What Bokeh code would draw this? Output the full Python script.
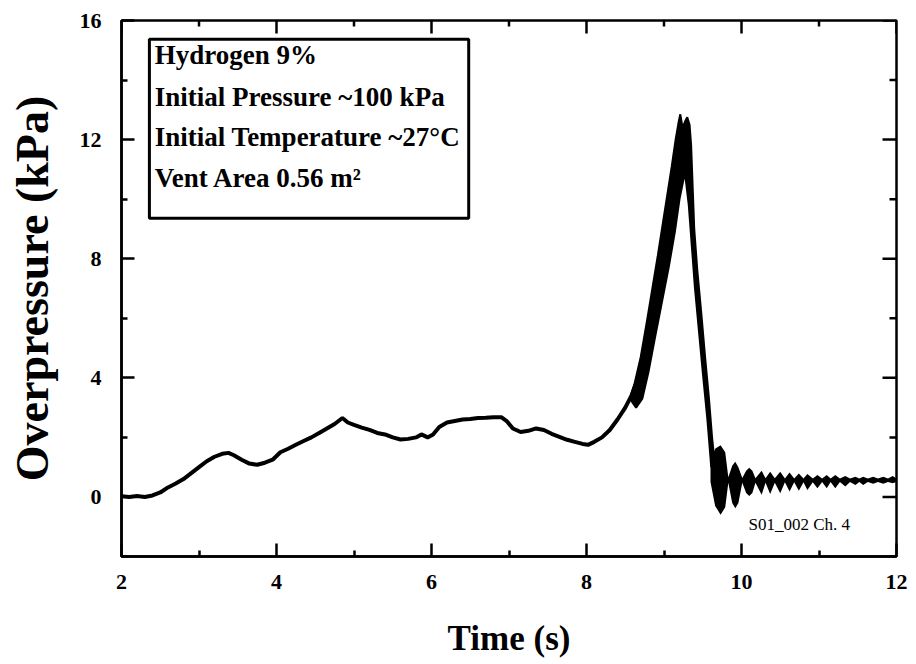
import math
from bokeh.plotting import figure
from bokeh.models import Range1d, FixedTicker, BoxAnnotation, Label
from bokeh.embed import file_html
from bokeh.resources import INLINE

# ---- data ----
# smooth part of the trace (time s, overpressure kPa)
trace_t = [2.00, 2.10, 2.20, 2.30, 2.40, 2.50, 2.60, 2.70, 2.80, 2.90, 3.00, 3.10, 3.20, 3.30,
           3.38, 3.45, 3.55, 3.65, 3.75, 3.85, 3.95, 4.05, 4.15, 4.25, 4.35, 4.45, 4.55, 4.65,
           4.75, 4.85, 4.92, 5.00, 5.10, 5.20, 5.30, 5.40, 5.50, 5.60, 5.70, 5.80, 5.87, 5.95,
           6.02, 6.10, 6.20, 6.30, 6.40, 6.50, 6.60, 6.70, 6.80, 6.90, 6.97, 7.05, 7.15, 7.25,
           7.35, 7.45, 7.55, 7.65, 7.75, 7.85, 7.95, 8.02, 8.10, 8.20, 8.30, 8.40, 8.50, 8.58,
           8.65, 8.72]
trace_p = [0.02, 0.00, 0.03, 0.00, 0.05, 0.15, 0.32, 0.45, 0.60, 0.80, 1.00, 1.20, 1.35, 1.45,
           1.48, 1.40, 1.25, 1.12, 1.08, 1.15, 1.25, 1.50, 1.62, 1.75, 1.88, 2.00, 2.15, 2.30,
           2.45, 2.65, 2.50, 2.42, 2.33, 2.25, 2.15, 2.10, 2.00, 1.93, 1.95, 2.00, 2.10, 2.00,
           2.10, 2.35, 2.50, 2.55, 2.60, 2.62, 2.65, 2.66, 2.68, 2.68, 2.55, 2.30, 2.18, 2.22,
           2.30, 2.25, 2.12, 2.02, 1.92, 1.85, 1.78, 1.75, 1.85, 2.00, 2.25, 2.60, 3.00, 3.40,
           3.90, 4.50]

# outline of the thick (fast-oscillating) pressure peak
peak_t = [8.56, 8.62, 8.70, 8.78, 8.85, 8.92, 8.98, 9.04, 9.10, 9.15, 9.19, 9.21, 9.24, 9.27,
          9.30, 9.33, 9.35, 9.37, 9.39, 9.43, 9.48, 9.53, 9.58, 9.62, 9.66, 9.61, 9.56, 9.50,
          9.45, 9.40, 9.36, 9.32, 9.27, 9.20, 9.14, 9.06, 8.97, 8.88, 8.80, 8.72, 8.64]
peak_p = [3.3, 3.8, 4.7, 5.9, 7.0, 8.1, 9.1, 10.1, 11.1, 12.0, 12.6, 12.85, 12.4, 12.6,
          12.75, 12.5, 11.8, 10.4, 9.0, 7.6, 6.2, 4.7, 3.3, 2.0, 1.0, 1.0, 2.6, 4.2,
          5.6, 7.0, 8.4, 9.8, 10.9, 10.0, 8.9, 7.7, 6.5, 5.3, 4.2, 3.3, 3.0]

# decaying oscillation after the peak: upper / lower envelope
osc_t = [9.60, 9.66, 9.73, 9.79, 9.83, 9.88, 9.92, 9.96, 10.01, 10.06, 10.10, 10.14, 10.18,
         10.26, 10.31, 10.37, 10.43, 10.50, 10.56, 10.62, 10.68, 10.74, 10.80, 10.85, 10.92,
         10.98, 11.04, 11.10, 11.15, 11.21, 11.27, 11.34, 11.40, 11.47, 11.52, 11.57, 11.63,
         11.70, 11.76, 11.83, 11.89, 11.95, 12.00]
osc_hi = [1.2, 1.62, 1.74, 1.5, 0.66, 1.05, 1.18, 1.0, 0.64, 0.88, 0.98, 0.88, 0.63,
          0.88, 0.63, 0.85, 0.63, 0.85, 0.62, 0.82, 0.62, 0.79, 0.62, 0.77, 0.62,
          0.74, 0.62, 0.74, 0.62, 0.74, 0.62, 0.70, 0.62, 0.68, 0.62, 0.68, 0.62,
          0.68, 0.62, 0.68, 0.62, 0.70, 0.62]
osc_lo = [0.5, -0.3, -0.6, -0.35, 0.48, -0.2, -0.38, -0.2, 0.48, 0.13, 0.03, 0.13, 0.48,
          0.07, 0.48, 0.10, 0.48, 0.12, 0.49, 0.18, 0.49, 0.21, 0.49, 0.23, 0.49,
          0.29, 0.5, 0.29, 0.5, 0.29, 0.5, 0.35, 0.5, 0.40, 0.5, 0.40, 0.5,
          0.44, 0.5, 0.44, 0.5, 0.46, 0.5]

x_lim = (2, 12)
y_lim = (-2, 16)
x_major = [2, 4, 6, 8, 10, 12]
x_minor = [3, 5, 7, 9, 11]
y_major = [0, 4, 8, 12, 16]
y_minor = [-2, 2, 6, 10, 14]

info_lines = ["Hydrogen 9%", "Initial Pressure ~100 kPa",
              "Initial Temperature ~27\u00b0C", "Vent Area 0.56 m\u00b2"]
info_y = [14.33, 12.92, 11.58, 10.20]
channel_note = "S01_002 Ch. 4"

FONT = "Liberation Serif"

p = figure(width=916, height=660, x_range=Range1d(*x_lim), y_range=Range1d(*y_lim),
           output_backend="svg", toolbar_location=None,
           min_border_left=121, min_border_right=20, min_border_top=20, min_border_bottom=104)
p.xgrid.visible = False
p.ygrid.visible = False
p.outline_line_color = "black"
p.outline_line_width = 2.5
p.background_fill_color = "white"
p.border_fill_color = "white"

xax = p.below[0]
yax = p.left[0]
xax.ticker = FixedTicker(ticks=x_major, minor_ticks=x_minor)
yax.ticker = FixedTicker(ticks=y_major, minor_ticks=y_minor)

for ax in (xax, yax):
    ax.axis_line_width = 2.5
    ax.axis_line_color = "black"
    ax.major_tick_line_width = 2.5
    ax.minor_tick_line_width = 2.5
    ax.major_tick_in = 13
    ax.major_tick_out = 0
    ax.minor_tick_in = 6
    ax.minor_tick_out = 0
    ax.major_label_text_font = FONT
    ax.major_label_text_font_style = "bold"
    ax.major_label_text_font_size = "22px"
    ax.major_label_text_color = "black"
    ax.axis_label_text_font = FONT
    ax.axis_label_text_font_style = "bold"
    ax.axis_label_text_color = "black"

xax.axis_label = "Time (s)"
xax.axis_label_text_font_size = "35px"
xax.major_label_standoff = 18
xax.axis_label_standoff = 27
yax.axis_label = "Overpressure (kPa)"
yax.axis_label_text_font_size = "46px"
yax.major_label_standoff = 20
yax.axis_label_standoff = 19

# mirrored ticks on the top and right edges (half of each dash is clipped by the frame)
p.scatter(x=x_major, y=[y_lim[1]] * len(x_major), marker="dash", angle=math.pi / 2,
          size=26, line_color="black", line_width=2.5)
p.scatter(x=x_minor, y=[y_lim[1]] * len(x_minor), marker="dash", angle=math.pi / 2,
          size=12, line_color="black", line_width=2.5)
p.scatter(x=[x_lim[1]] * len(y_major), y=y_major, marker="dash",
          size=28, line_color="black", line_width=2.5)
p.scatter(x=[x_lim[1]] * len(y_minor), y=y_minor, marker="dash",
          size=14, line_color="black", line_width=2.5)

# data
p.line(trace_t, trace_p, line_color="black", line_width=4)
p.patch(peak_t, peak_p, fill_color="black", line_color="black", line_width=2)
p.varea(x=osc_t, y1=osc_lo, y2=osc_hi, fill_color="black")

# info box
box = BoxAnnotation(left=2.36, right=6.48, bottom=9.36, top=15.37,
                    fill_color="white", fill_alpha=1.0,
                    line_color="black", line_alpha=1.0, line_width=3)
p.add_layout(box)
for txt, yy in zip(info_lines, info_y):
    p.add_layout(Label(x=2.43, y=yy, text=txt, text_font=FONT, text_font_style="bold",
                       text_font_size="27px", text_color="black"))

p.add_layout(Label(x=10.09, y=-1.24, text=channel_note, text_font=FONT,
                   text_font_size="17px", text_color="black"))

open("out.html", "w").write(file_html(p, INLINE))
